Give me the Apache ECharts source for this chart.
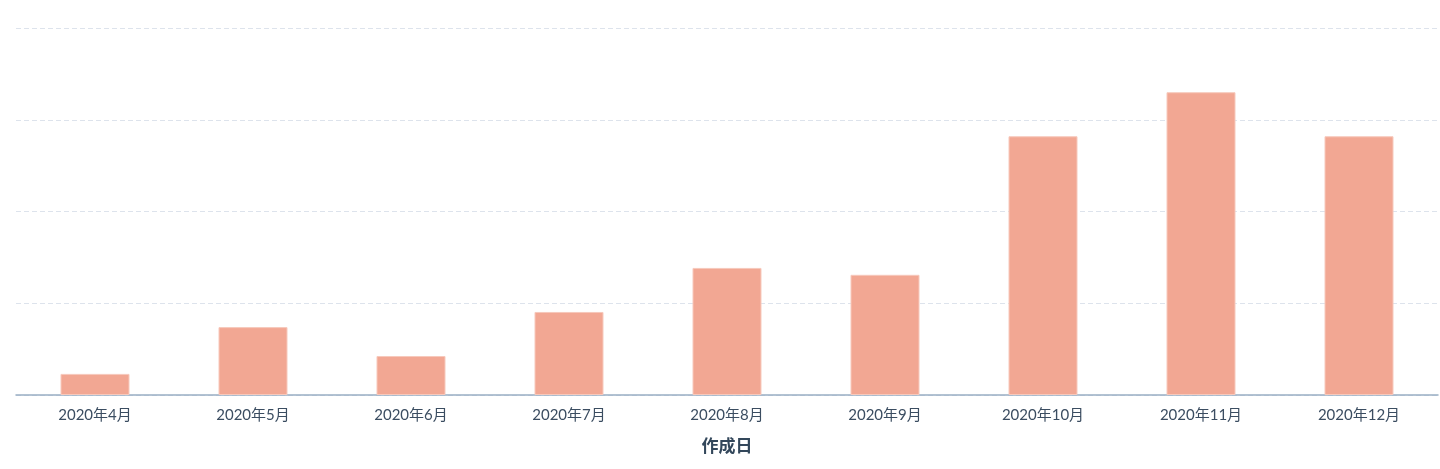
<!DOCTYPE html>
<html>
<head>
<meta charset="utf-8">
<script src="https://cdn.jsdelivr.net/npm/echarts@6/dist/echarts.min.js"></script>
<style>
  html, body { margin: 0; padding: 0; background: #fff; }
  #charts { width: 1440px; height: 469px; }
</style>
</head>
<body>
<div id="charts"></div>
<script>
// 作成日ごとの件数
const months = ['2020年4月', '2020年5月', '2020年6月', '2020年7月', '2020年8月', '2020年9月', '2020年10月', '2020年11月', '2020年12月'];
const counts = [2.3, 7.4, 4.25, 9.05, 13.85, 13.1, 28.2, 33, 28.2];

const myChart = echarts.init(document.getElementById('charts'));

const option = {
  animation: false,
  grid: {
    left: 16,
    right: 2,
    top: 28,
    bottom: 74
  },
  xAxis: {
    type: 'category',
    data: months,
    name: '作成日',
    nameLocation: 'middle',
    nameGap: 43,
    nameTextStyle: {
      color: '#33475b',
      fontSize: 17,
      fontWeight: 'bold',
      fontFamily: 'Lato, Noto Sans CJK JP'
    },
    axisLine: { lineStyle: { color: '#99afc4', width: 1.5 } },
    axisTick: { show: false },
    axisLabel: {
      color: '#3b4d61',
      fontSize: 15,
      margin: 13,
      fontFamily: 'Lato, Noto Sans CJK JP'
    }
  },
  yAxis: {
    type: 'value',
    min: 0,
    max: 40,
    interval: 10,
    axisLine: { show: false },
    axisTick: { show: false },
    axisLabel: { show: false },
    splitLine: {
      lineStyle: { color: '#dde3ec', type: [5, 3], width: 1 }
    }
  },
  series: [
    {
      type: 'bar',
      data: counts,
      barWidth: 69,
      itemStyle: {
        color: '#f2a793',
        borderColor: '#f7c9bc',
        borderWidth: 1
      }
    }
  ]
};

myChart.setOption(option);
</script>
</body>
</html>
